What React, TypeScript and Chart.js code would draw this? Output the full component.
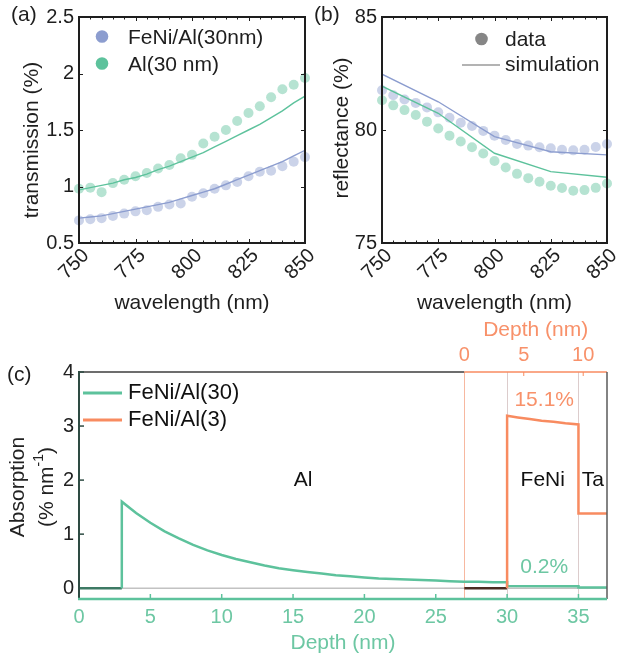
import React, { useEffect, useRef } from 'react';
import { Chart, registerables } from 'chart.js';

Chart.register(...registerables);

const FONT = "'Liberation Sans', Arial, Helvetica, sans-serif";
Chart.defaults.font.family = FONT;

// ---------------- data ----------------
const wavelengths = [750, 755, 760, 765, 770, 775, 780, 785, 790, 795, 800, 805, 810, 815, 820, 825, 830, 835, 840, 845, 850];
const wavelengthTicks = [750, 775, 800, 825, 850];
const transmissionTicks = [0.5, 1, 1.5, 2, 2.5];
const reflectanceTicks = [75, 80, 85];

const transFeNiData = [0.70, 0.71, 0.72, 0.74, 0.76, 0.78, 0.79, 0.82, 0.84, 0.85, 0.91, 0.94, 0.98, 1.01, 1.04, 1.09, 1.13, 1.14, 1.18, 1.22, 1.26];
const transAlData = [0.98, 0.99, 0.95, 1.03, 1.06, 1.09, 1.12, 1.16, 1.19, 1.25, 1.28, 1.38, 1.44, 1.50, 1.58, 1.65, 1.71, 1.79, 1.86, 1.90, 1.96];
const transFeNiSim = [0.72, 0.73, 0.74, 0.76, 0.78, 0.80, 0.82, 0.84, 0.86, 0.89, 0.92, 0.95, 0.98, 1.02, 1.06, 1.10, 1.14, 1.18, 1.22, 1.27, 1.32];
const transAlSim = [0.97, 0.99, 1.01, 1.03, 1.06, 1.08, 1.11, 1.15, 1.18, 1.22, 1.26, 1.30, 1.35, 1.40, 1.45, 1.50, 1.55, 1.61, 1.67, 1.74, 1.80];

const reflFeNiData = [81.76, 81.54, 81.35, 81.20, 81.00, 80.78, 80.54, 80.32, 80.18, 79.96, 79.75, 79.56, 79.38, 79.31, 79.24, 79.19, 79.13, 79.10, 79.13, 79.25, 79.38];
const reflAlData = [81.32, 81.09, 80.88, 80.66, 80.37, 80.07, 79.75, 79.49, 79.24, 78.96, 78.63, 78.34, 78.06, 77.87, 77.71, 77.53, 77.43, 77.31, 77.34, 77.44, 77.63];
const simWavelengths = [750, 775, 800, 825, 850];
const reflFeNiSim = [82.47, 81.25, 79.71, 79.04, 78.90];
const reflAlSim = [81.94, 80.74, 78.97, 78.16, 77.91];

const depthTicks = [0, 5, 10, 15, 20, 25, 30, 35];
const depthTopTicks = [0, 5, 10];
const absorptionTicks = [0, 1, 2, 3, 4];
const layerBoundaries = [30, 35];

const depthAl30 = [0, 3, 3, 4, 5, 6, 7, 8, 9, 10, 11, 12, 13, 14, 15, 16, 17, 18, 19, 20, 21, 22, 23, 24, 25, 26, 27, 28, 29, 30, 30, 35, 35, 37];
const absAl30 = [0, 0, 1.60, 1.39, 1.21, 1.05, 0.92, 0.80, 0.70, 0.615, 0.54, 0.48, 0.42, 0.37, 0.334, 0.30, 0.27, 0.24, 0.22, 0.20, 0.18, 0.17, 0.16, 0.15, 0.14, 0.13, 0.12, 0.12, 0.11, 0.11, 0.04, 0.035, 0.015, 0.015];
const depthAl3 = [0, 3.6, 3.6, 4.5, 5.5, 6.5, 7.5, 8.5, 9.6, 9.6, 12];
const absAl3 = [0, 0, 3.19, 3.16, 3.13, 3.10, 3.08, 3.05, 3.03, 1.38, 1.38];

// ---------------- style ----------------
const BLUE = '#8c9dcf';
const GREEN = '#5dc29c';
const ORANGE = '#f88b60';
const BLUE_PT = 'rgba(140,157,207,0.45)';
const GREEN_PT = 'rgba(93,194,156,0.45)';
const GREEN_TXT = '#6dc7a3';
const ORANGE_TXT = '#f8916a';
const TXT = '#1e1e1e';

const NO_GRID = { display: false, drawTicks: false, tickLength: 0 };

const pts = (xs: number[], ys: number[]) => xs.map((x, i) => ({ x, y: ys[i] }));

function drawText(ctx: CanvasRenderingContext2D, s: string, x: number, y: number, size: number, color: string, align: CanvasTextAlign = 'center', rot = 0) {
  ctx.save();
  ctx.translate(x, y);
  if (rot) ctx.rotate(rot);
  ctx.font = `${size}px ${FONT}`;
  ctx.fillStyle = color;
  ctx.textAlign = align;
  ctx.textBaseline = 'middle';
  ctx.fillText(s, 0, 0);
  ctx.restore();
}

function seg(ctx: CanvasRenderingContext2D, x1: number, y1: number, x2: number, y2: number) {
  ctx.beginPath();
  ctx.moveTo(x1, y1);
  ctx.lineTo(x2, y2);
  ctx.stroke();
}

function simLine(xs: number[], ys: number[], color: string) {
  return { data: pts(xs, ys), showLine: true, borderColor: color, borderWidth: 1.4, pointRadius: 0, fill: false, tension: 0 };
}
function dots(xs: number[], ys: number[], color: string) {
  return { data: pts(xs, ys), showLine: false, backgroundColor: color, borderWidth: 0, pointRadius: 5, clip: false };
}

function waveOptions(yMin: number, yMax: number, yTicks: number[], yWidth: number, rightPad: number) {
  return {
    animation: false,
    responsive: false,
    maintainAspectRatio: false,
    events: [],
    layout: { padding: { left: 0, top: 17, right: rightPad, bottom: 0 } },
    plugins: { legend: { display: false }, tooltip: { enabled: false } },
    scales: {
      x: {
        type: 'linear', min: 750, max: 850,
        afterBuildTicks: (s: any) => { s.ticks = wavelengthTicks.map(v => ({ value: v })); },
        afterFit: (s: any) => { s.height = 77; s.paddingLeft = 0; s.paddingRight = 0; },
        grid: NO_GRID, border: { display: false },
        ticks: { autoSkip: false, minRotation: 45, maxRotation: 45, padding: 1, labelOffset: 7, color: TXT, font: { size: 20 }, callback: (v: any) => String(v) },
      },
      y: {
        type: 'linear', min: yMin, max: yMax,
        afterBuildTicks: (s: any) => { s.ticks = yTicks.map(v => ({ value: v })); },
        afterFit: (s: any) => { s.width = yWidth; s.paddingTop = 0; s.paddingBottom = 0; },
        grid: NO_GRID, border: { display: false },
        ticks: { padding: 5, color: TXT, font: { size: 20 }, callback: (v: any) => String(v) },
      },
    },
  };
}

function wavePlugin(o: any) {
  return {
    id: 'wavePanel',
    afterDatasetsDraw(chart: any) {
      const { ctx, chartArea: a, scales } = chart;
      const xs = scales.x, ys = scales.y;
      ctx.save();
      ctx.strokeStyle = '#1e1e1e';
      ctx.lineWidth = 1;
      ctx.beginPath();
      for (const v of wavelengths) {
        const px = Math.round(xs.getPixelForValue(v)) + 0.5;
        const len = wavelengthTicks.includes(v) ? 4 : 2.5;
        ctx.moveTo(px, a.bottom); ctx.lineTo(px, a.bottom - len);
        ctx.moveTo(px, a.top); ctx.lineTo(px, a.top + len);
      }
      for (const v of o.yTicks) {
        const py = Math.round(ys.getPixelForValue(v)) + 0.5;
        ctx.moveTo(a.left, py); ctx.lineTo(a.left + 4, py);
        ctx.moveTo(a.right, py); ctx.lineTo(a.right - 4, py);
      }
      ctx.stroke();
      ctx.lineWidth = 2;
      ctx.strokeRect(a.left, a.top, a.right - a.left, a.bottom - a.top);

      drawText(ctx, 'wavelength (nm)', (a.left + a.right) / 2, 303, 21, TXT);
      drawText(ctx, o.yTitle, o.yTitleX, o.yTitleY, 21, TXT, 'center', -Math.PI / 2);
      drawText(ctx, o.letter, o.letterX, 15, 21, TXT, 'left');
      o.legend(ctx);
      ctx.restore();
    },
  };
}

const configA = () => ({
  type: 'scatter',
  data: {
    datasets: [
      simLine(wavelengths, transFeNiSim, BLUE),
      simLine(wavelengths, transAlSim, GREEN),
      dots(wavelengths, transFeNiData, BLUE_PT),
      dots(wavelengths, transAlData, GREEN_PT),
    ],
  },
  options: waveOptions(0.5, 2.5, transmissionTicks, 79, 25),
  plugins: [wavePlugin({
    yTicks: transmissionTicks, yTitle: 'transmission (%)', yTitleX: 32, yTitleY: 140, letter: '(a)', letterX: 11,
    legend: (ctx: CanvasRenderingContext2D) => {
      ctx.fillStyle = BLUE; ctx.beginPath(); ctx.arc(102, 36.5, 6.3, 0, Math.PI * 2); ctx.fill();
      ctx.fillStyle = GREEN; ctx.beginPath(); ctx.arc(102, 63.5, 6.3, 0, Math.PI * 2); ctx.fill();
      drawText(ctx, 'FeNi/Al(30nm)', 128, 38, 21, TXT, 'left');
      drawText(ctx, 'Al(30 nm)', 128, 65, 21, TXT, 'left');
    },
  })],
});

const configB = () => ({
  type: 'scatter',
  data: {
    datasets: [
      simLine(simWavelengths, reflFeNiSim, BLUE),
      simLine(simWavelengths, reflAlSim, GREEN),
      dots(wavelengths, reflFeNiData, BLUE_PT),
      dots(wavelengths, reflAlData, GREEN_PT),
    ],
  },
  options: waveOptions(75, 85, reflectanceTicks, 72, 11),
  plugins: [wavePlugin({
    yTicks: reflectanceTicks, yTitle: 'reflectance (%)', yTitleX: 32, yTitleY: 128, letter: '(b)', letterX: 4,
    legend: (ctx: CanvasRenderingContext2D) => {
      ctx.fillStyle = '#868686'; ctx.beginPath(); ctx.arc(171.5, 39, 6.3, 0, Math.PI * 2); ctx.fill();
      ctx.strokeStyle = '#9a9a9a'; ctx.lineWidth = 1.4; seg(ctx, 152, 65, 190, 65);
      drawText(ctx, 'data', 195, 40, 21, TXT, 'left');
      drawText(ctx, 'simulation', 195, 65, 21, TXT, 'left');
    },
  })],
});

const panelCPlugin = {
  id: 'panelC',
  beforeDatasetsDraw(chart: any) {
    const { ctx, chartArea: a, scales } = chart;
    const { x, x2, y } = scales;
    ctx.save();
    const y0 = y.getPixelForValue(0);
    ctx.strokeStyle = '#c2c2c2'; ctx.lineWidth = 1.5;
    seg(ctx, a.left, y0, a.right, y0);
    ctx.lineWidth = 1;
    const xo = Math.round(x2.getPixelForValue(0)) + 0.5;
    ctx.strokeStyle = '#f7b8a0';
    seg(ctx, xo, a.top, xo, a.bottom);
    ctx.strokeStyle = '#dccccc';
    for (const v of layerBoundaries) {
      const px = Math.round(x.getPixelForValue(v)) + 0.5;
      seg(ctx, px, a.top, px, a.bottom);
    }
    ctx.restore();
  },
  afterDatasetsDraw(chart: any) {
    const { ctx, chartArea: a, scales } = chart;
    const { x, x2, y } = scales;
    ctx.save();
    const xo = x2.getPixelForValue(0);
    // frame
    ctx.lineWidth = 1.5;
    ctx.strokeStyle = '#3c3c3c'; seg(ctx, a.left, a.top, xo, a.top);
    ctx.strokeStyle = ORANGE; seg(ctx, xo, a.top, a.right, a.top);
    ctx.strokeStyle = '#5a5a5a'; seg(ctx, a.right, a.top, a.right, a.bottom);
    ctx.lineWidth = 2;
    ctx.strokeStyle = '#2e4b43'; seg(ctx, a.left, a.top - 1, a.left, a.bottom);
    ctx.lineWidth = 2.5;
    ctx.strokeStyle = GREEN; seg(ctx, a.left - 1, a.bottom, a.right, a.bottom);
    // ticks
    ctx.lineWidth = 1.5; ctx.strokeStyle = GREEN;
    for (const v of depthTicks) {
      if (v === 0) continue;
      const px = x.getPixelForValue(v);
      seg(ctx, px, a.bottom, px, a.bottom - 5);
    }
    ctx.lineWidth = 1; ctx.strokeStyle = ORANGE;
    for (const v of depthTopTicks) {
      if (v === 0) continue;
      const px = x2.getPixelForValue(v);
      seg(ctx, px, a.top, px, a.top + 4);
    }
    ctx.lineWidth = 1.5; ctx.strokeStyle = '#2e4b43';
    for (const v of absorptionTicks) {
      if (v === 0) continue;
      const py = y.getPixelForValue(v);
      seg(ctx, a.left, py, a.left + 5, py);
    }
    // annotations
    drawText(ctx, 'Al', x.getPixelForValue(15.7), y.getPixelForValue(2.0), 21, '#111');
    drawText(ctx, 'FeNi', x.getPixelForValue(32.5), y.getPixelForValue(2.0), 21, '#111');
    drawText(ctx, 'Ta', x.getPixelForValue(36.0), y.getPixelForValue(2.0), 21, '#111');
    drawText(ctx, '15.1%', x.getPixelForValue(32.6), y.getPixelForValue(3.48), 21, ORANGE_TXT);
    drawText(ctx, '0.2%', x.getPixelForValue(32.6), y.getPixelForValue(0.38), 21, GREEN_TXT);
    // axis titles
    drawText(ctx, 'Depth (nm)', (xo + x2.getPixelForValue(12)) / 2, 20, 21, ORANGE_TXT);
    drawText(ctx, 'Depth (nm)', (a.left + a.right) / 2, 333, 21, GREEN_TXT);
    drawText(ctx, 'Absorption', 18, 177, 21, '#222', 'center', -Math.PI / 2);
    ctx.save();
    ctx.translate(47, 177);
    ctx.rotate(-Math.PI / 2);
    ctx.fillStyle = '#222';
    ctx.textBaseline = 'middle';
    ctx.textAlign = 'left';
    ctx.font = `21px ${FONT}`;
    const p1 = '(% nm', p3 = ')';
    const w1 = ctx.measureText(p1).width, w3 = ctx.measureText(p3).width;
    ctx.font = `14px ${FONT}`;
    const sup = '-1';
    const w2 = ctx.measureText(sup).width;
    let cx = -(w1 + w2 + w3) / 2;
    ctx.font = `21px ${FONT}`;
    ctx.fillText(p1, cx, 0); cx += w1;
    ctx.font = `14px ${FONT}`;
    ctx.fillText(sup, cx, -8); cx += w2;
    ctx.font = `21px ${FONT}`;
    ctx.fillText(p3, cx, 0);
    ctx.restore();
    drawText(ctx, '(c)', 7, 65, 21, TXT, 'left');
    // legend
    ctx.lineWidth = 3;
    ctx.strokeStyle = GREEN; seg(ctx, 83, 83, 122, 83);
    ctx.strokeStyle = ORANGE; seg(ctx, 83, 110, 122, 110);
    drawText(ctx, 'FeNi/Al(30)', 128, 83, 22, '#111', 'left');
    drawText(ctx, 'FeNi/Al(3)', 128, 110, 22, '#111', 'left');
    ctx.restore();
  },
};

const configC = () => ({
  type: 'scatter',
  data: {
    datasets: [
      {
        data: pts(depthAl3, absAl3), xAxisID: 'x2', yAxisID: 'y', showLine: true, borderColor: ORANGE, borderWidth: 2.5, pointRadius: 0, tension: 0,
        borderJoinStyle: 'miter',
        segment: { borderColor: (c: any) => (c.p0.parsed.y === 0 && c.p1.parsed.y === 0 ? '#4a2c22' : undefined) },
      },
      {
        data: pts(depthAl30, absAl30), xAxisID: 'x', yAxisID: 'y', showLine: true, borderColor: GREEN, borderWidth: 2.5, pointRadius: 0, tension: 0,
        borderJoinStyle: 'miter',
        segment: { borderColor: (c: any) => (c.p0.parsed.y === 0 && c.p1.parsed.y === 0 ? '#3d7a64' : undefined) },
      },
    ],
  },
  options: {
    animation: false,
    responsive: false,
    maintainAspectRatio: false,
    events: [],
    layout: { padding: { left: 0, top: 0, right: 11, bottom: 0 } },
    plugins: { legend: { display: false }, tooltip: { enabled: false } },
    scales: {
      x: {
        type: 'linear', position: 'bottom', min: 0, max: 37,
        afterBuildTicks: (s: any) => { s.ticks = depthTicks.map(v => ({ value: v })); },
        afterFit: (s: any) => { s.height = 56; s.paddingLeft = 0; s.paddingRight = 0; },
        grid: NO_GRID, border: { display: false },
        ticks: { autoSkip: false, maxRotation: 0, minRotation: 0, padding: 6, color: GREEN_TXT, font: { size: 20 }, callback: (v: any) => String(v) },
      },
      x2: {
        type: 'linear', position: 'top', min: -32.4, max: 12,
        afterBuildTicks: (s: any) => { s.ticks = depthTopTicks.map(v => ({ value: v })); },
        afterFit: (s: any) => { s.height = 62; s.paddingLeft = 0; s.paddingRight = 0; },
        grid: NO_GRID, border: { display: false },
        ticks: { autoSkip: false, maxRotation: 0, minRotation: 0, padding: 5, color: ORANGE_TXT, font: { size: 20 }, callback: (v: any) => String(v) },
      },
      y: {
        type: 'linear', min: -0.2, max: 4,
        afterBuildTicks: (s: any) => { s.ticks = absorptionTicks.map(v => ({ value: v })); },
        afterFit: (s: any) => { s.width = 79; s.paddingTop = 0; s.paddingBottom = 0; },
        grid: NO_GRID, border: { display: false },
        ticks: { padding: 5, color: '#222', font: { size: 20 }, callback: (v: any) => String(v) },
      },
    },
  },
  plugins: [panelCPlugin],
});

function ChartCanvas({ config, left, top, width, height }: any) {
  const ref = useRef<HTMLCanvasElement>(null);
  useEffect(() => {
    const chart = new Chart(ref.current as HTMLCanvasElement, config() as any);
    return () => chart.destroy();
  }, []);
  return (
    <canvas
      ref={ref}
      width={width}
      height={height}
      style={{ position: 'absolute', left, top, width, height, display: 'block' }}
    />
  );
}

export default function App() {
  useEffect(() => {
    document.body.style.margin = '0';
    document.body.style.background = '#fff';
  }, []);
  return (
    <div style={{ position: 'relative', width: 618, height: 655, background: '#fff', overflow: 'hidden' }}>
      <ChartCanvas config={configB} left={310} top={0} width={308} height={320} />
      <ChartCanvas config={configA} left={0} top={0} width={330} height={320} />
      <ChartCanvas config={configC} left={0} top={310} width={618} height={345} />
    </div>
  );
}
